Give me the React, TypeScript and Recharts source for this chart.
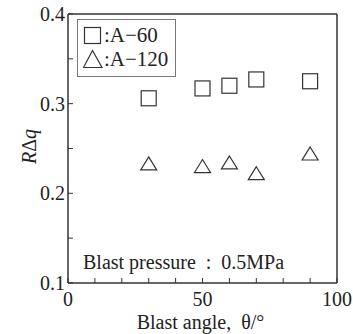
import React from 'react';
import { ScatterChart, Scatter, XAxis, YAxis, ReferenceLine, Legend, Label } from 'recharts';

// blast angle (deg) vs RΔq
const anglesA60 = [30, 50, 60, 70, 90];
const valuesA60 = [0.306, 0.317, 0.32, 0.327, 0.325];
const anglesA120 = [30, 50, 60, 70, 90];
const valuesA120 = [0.232, 0.229, 0.233, 0.221, 0.243];

const xTicks = [0, 10, 20, 30, 40, 50, 60, 70, 80, 90, 100];
const xLabeled = [0, 50, 100];
const yTicks = [0.1, 0.15, 0.2, 0.25, 0.3, 0.35, 0.4];
const yLabeled = [0.1, 0.2, 0.3, 0.4];

const seriesA60 = anglesA60.map((x, i) => ({ x, y: valuesA60[i] }));
const seriesA120 = anglesA120.map((x, i) => ({ x, y: valuesA120[i] }));

const FONT = '"Liberation Serif", "Times New Roman", serif';
const INK = '#333';

const SquareMark = (props: any) => {
  const { cx, cy } = props;
  return <rect x={cx - 7.5} y={cy - 7.5} width={15} height={15} fill="none" stroke={INK} strokeWidth={1.2} />;
};

const TriangleMark = (props: any) => {
  const { cx, cy } = props;
  const h = 13;
  const w = 16;
  return (
    <path
      d={`M${cx},${cy - h * 0.6} L${cx + w / 2},${cy + h * 0.4} L${cx - w / 2},${cy + h * 0.4} Z`}
      fill="none"
      stroke={INK}
      strokeWidth={1.2}
    />
  );
};

const LegendBox = () => (
  <div
    style={{
      border: '1px solid #777',
      width: 99,
      height: 58,
      boxSizing: 'border-box',
      fontFamily: FONT,
      fontSize: 21,
      color: '#222',
      padding: '3px 0 0 5px',
      lineHeight: '24px',
    }}
  >
    <div style={{ display: 'flex', alignItems: 'center' }}>
      <svg width={21} height={20}>
        <rect x={1.5} y={2.5} width={16} height={16} fill="none" stroke={INK} strokeWidth={1.2} />
      </svg>
      <span>:A−60</span>
    </div>
    <div style={{ display: 'flex', alignItems: 'center' }}>
      <svg width={21} height={20}>
        <path d="M9.5,1.5 L19,18.5 L0.5,18.5 Z" fill="none" stroke={INK} strokeWidth={1.2} />
      </svg>
      <span>:A−120</span>
    </div>
  </div>
);

const YTitle = (props: any) => {
  const { viewBox } = props;
  const cx = viewBox.x + 28;
  const cy = viewBox.y + viewBox.height / 2 - 2;
  return (
    <text
      x={cx}
      y={cy}
      transform={`rotate(-90, ${cx}, ${cy})`}
      textAnchor="middle"
      fontFamily={FONT}
      fontSize={20}
      fill="#222"
    >
      <tspan fontStyle="italic">R</tspan>
      <tspan>Δ</tspan>
      <tspan fontStyle="italic">q</tspan>
    </text>
  );
};

const XTitle = (props: any) => {
  const { viewBox } = props;
  return (
    <text
      x={viewBox.x + viewBox.width / 2 - 2}
      y={viewBox.y + 46}
      textAnchor="middle"
      fontFamily={FONT}
      fontSize={20}
      fill="#222"
      style={{ whiteSpace: 'pre' }}
    >
      Blast angle,  θ/°
    </text>
  );
};

export default function App() {
  return (
    <div style={{ position: 'absolute', left: 0, top: 0, width: 353, height: 334, background: '#fff' }}>
      <ScatterChart width={353} height={334} margin={{ top: 14, right: 16, bottom: 11, left: 8 }}>
        <XAxis
          type="number"
          dataKey="x"
          domain={[0, 100]}
          ticks={xTicks}
          tickFormatter={(v: number) => (xLabeled.includes(v) ? String(v) : '')}
          height={40}
          tickSize={-5}
          tickMargin={14}
          axisLine={{ stroke: INK, strokeWidth: 1.5 }}
          tickLine={{ stroke: INK }}
          tick={{ fill: '#222', fontFamily: FONT, fontSize: 20 }}
          interval={0}
        >
          <Label content={<XTitle />} />
        </XAxis>
        <YAxis
          type="number"
          dataKey="y"
          domain={[0.1, 0.4]}
          ticks={yTicks}
          tickFormatter={(v: number) => (yLabeled.some((t) => Math.abs(t - v) < 1e-9) ? v.toFixed(1) : '')}
          width={60}
          tickSize={-5}
          tickMargin={8}
          axisLine={{ stroke: INK, strokeWidth: 1.5 }}
          tickLine={{ stroke: INK }}
          tick={{ fill: '#222', fontFamily: FONT, fontSize: 20 }}
          interval={0}
        >
          <Label content={<YTitle />} />
        </YAxis>
        <ReferenceLine y={0.4} stroke={INK} strokeWidth={1.5} />
        <ReferenceLine x={100} stroke={INK} strokeWidth={1.5} />
        <Legend
          content={<LegendBox />}
          layout="horizontal"
          verticalAlign="middle"
          align="center"
          wrapperStyle={{ left: 77, top: 19, width: 99 }}
        />
        <Scatter name="A-60" data={seriesA60} shape={<SquareMark />} isAnimationActive={false} />
        <Scatter name="A-120" data={seriesA120} shape={<TriangleMark />} isAnimationActive={false} />
      </ScatterChart>
      <div
        style={{
          position: 'absolute',
          left: 83,
          top: 251,
          fontFamily: FONT,
          fontSize: 20,
          color: '#222',
          whiteSpace: 'pre',
        }}
      >
        Blast pressure  :  0.5MPa
      </div>
    </div>
  );
}
